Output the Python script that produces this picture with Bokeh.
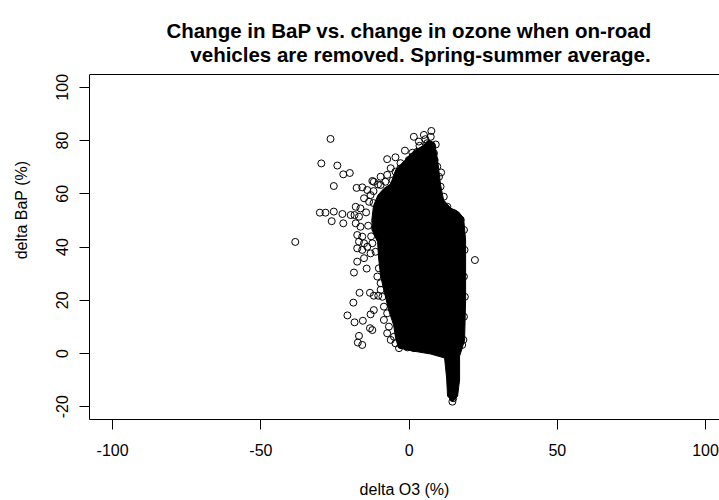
from bokeh.plotting import figure
from bokeh.models import Range1d, FixedTicker, Label, Span
from bokeh.embed import file_html
from bokeh.resources import INLINE

# ---------------- data ----------------
title_line1 = "Change in BaP vs. change in ozone when on-road"
title_line2 = "vehicles are removed. Spring-summer average."
x_label = "delta O3 (%)"
y_label = "delta BaP (%)"
x_ticks = [-100, -50, 0, 50, 100]
x_tick_labels = ["-100", "-50", "0", "50", "100"]
y_ticks = [-20, 0, 20, 40, 60, 80, 100]
y_tick_labels = ["-20", "0", "20", "40", "60", "80", "100"]

# outline of the region where the points overlap into a solid black mass
core_x = [4.55, 6.58, 8.60, 9.61, 10.62, 11.64, 14.00, 16.69, 18.38, 19.06,
          19.06, 18.72, 17.71, 17.03, 17.03, 16.36, 14.67, 12.98, 12.65, 11.97,
          7.25, 1.18, -3.54, -4.55, -5.23, -6.91, -8.26, -9.61, -10.29, -10.62,
          -12.2, -12.6, -12.0, -10.5, -8.5, -6.24, -4.5, -1.5, 1.5]
core_y = [77.95, 80.20, 79.08, 72.69, 63.30, 57.66, 54.66, 53.16, 50.90, 42.64,
          20.10, 5.07, 1.31, -0.94, -9.95, -15.97, -18.22, -15.97, -9.20, -1.69,
          -0.19, 0.94, 2.07, 5.82, 10.71, 16.34, 22.73, 29.11, 35.88, 41.89,
          45.6, 50.0, 55.5, 59.5, 62.0, 63.67, 69.0, 72.5, 76.0]

# individual points (outliers and ragged edge of the mass)
pts_x = [-26.5, -29.6, -24.2, -22.2, -20.0, -25.4, -38.4, -30.1, -28.2, -25.4,
         -22.5, -19.7, -26.1, -22.2, 22.2, -18.6, -16.7, -18.8, -20.8, -18.4,
         -15.6, -16.9, -17.3, -15.8, -13.2, -11.9, -10.4, -13.0, -11.9, -13.2,
         -12.4, -17.5, -14.3, 1.6, 5.0, 7.5, 3.3, 6.1, 7.3, -7.4,
         -4.6, -1.4, 1.1, 2.8, -12.4, -17.7, -15.8,
         -14.1, -13.0, -15.2, -18.0, -16.4, -18.4, -16.9, -18.0, -16.4, -17.5,
         -15.8, -16.9, -15.2, -17.5, -15.8, -14.1, -12.4, -13.0, -11.3, -15.2,
         -10.2, -10.7, -9.6, -9.6, -9.0, -8.5, -7.4, -8.5, -6.8, -7.4,
         -5.1, -4.6, -2.3, -0.6, 1.6, -6.2, -3.4, 17.9, 18.3, 14.9,
         14.6, 18.5, 18.7, 18.5, 18.8, 18.5,
         6.1, 7.8, 6.7, 4.5, 8.4, 8.6, 9.5, 10.1, 10.6, 11.7, 12.9, 15.1, 17.4,
         -6.2, -4.6, -2.9, -1.2, -0.1, 1.1, 2.8, -9.6, -7.4, -11.9, -9.6,
         -13.5, -14.5, -13.8, -12.0, -10.5, -8.0, -5.5, -3.0, -12.8, -11.5,
         -11.0, -12.0, 3.5, 5.5, 9.0, 10.8]
pts_y = [80.6, 71.4, 70.6, 67.3, 67.8, 62.9, 41.9, 52.9, 52.9, 53.3,
         52.4, 52.0, 49.7, 48.9, 35.1, 30.4, 22.8, 19.1, 14.3, 11.7,
         12.3, 6.6, 4.1, 3.2, 22.8, 21.7, 21.7, 14.7, 16.3, 9.5,
         8.8, 34.5, 31.9, 81.4, 82.1, 83.6, 79.6, 79.0, 81.4, 73.0,
         73.7, 76.2, 75.4, 75.8, 64.8, 62.2, 62.4,
         61.4, 59.5, 58.3, 55.1, 54.5, 52.0, 51.4, 48.9, 47.6, 44.5,
         43.9, 42.0, 41.4, 39.5, 38.9, 40.1, 41.4, 37.6, 38.2, 35.8,
         32.0, 28.9, 26.4, 23.9, 21.3, 17.6, 15.1, 12.6, 10.1, 7.6,
         6.3, 3.8, 3.2, 2.3, 2.0, 5.1, 2.0, 3.2, 5.1, -16.8,
         -18.1, 46.4, 38.9, 28.9, 21.3, 13.8,
         76.4, 77.7, 74.6, 75.2, 75.2, 72.7, 70.2, 66.4, 62.7, 58.9, 55.1, 52.7, 50.2,
         69.6, 68.3, 71.5, 70.8, 72.7, 73.9, 75.2, 66.4, 67.1, 64.5, 63.3,
         57.0, 53.0, 48.0, 61.0, 63.5, 64.5, 65.0, 69.5, 44.0, 47.0,
         52.5, 56.5, 78.0, 80.5, 78.5, 68.0]

# ---------------- figure ----------------
FONT = "Liberation Sans"
Y_LO, Y_HI = -24.8, 104.8  # plotting box (y)

p = figure(frame_width=630, frame_height=419,
           min_border_left=89, min_border_right=0, min_border_top=0, min_border_bottom=81,
           x_range=Range1d(-107.8, 104.7), y_range=Range1d(Y_LO, Y_LO + 419 / 2.662),
           output_backend="svg", toolbar_location=None)
p.outline_line_color = None
p.grid.visible = False
p.background_fill_color = "white"
p.border_fill_color = "white"

xa = p.xaxis[0]
xa.ticker = FixedTicker(ticks=x_ticks)
xa.major_label_overrides = {t: s for t, s in zip(x_ticks, x_tick_labels)}
xa.axis_label = x_label
ya = p.yaxis[0]
ya.ticker = FixedTicker(ticks=y_ticks)
ya.major_label_overrides = {t: s for t, s in zip(y_ticks, y_tick_labels)}
ya.axis_label = y_label
ya.major_label_orientation = "vertical"
ya.bounds = (Y_LO, Y_HI)

for ax in (xa, ya):
    ax.axis_line_color = "black"
    ax.axis_line_width = 1
    ax.major_tick_line_color = "black"
    ax.major_tick_out = 10
    ax.major_tick_in = 0
    ax.minor_tick_line_color = None
    ax.major_label_text_font = FONT
    ax.major_label_text_font_size = "16px"
    ax.major_label_text_color = "black"
    ax.axis_label_text_font = FONT
    ax.axis_label_text_font_size = "16px"
    ax.axis_label_text_font_style = "normal"
    ax.axis_label_text_color = "black"
xa.major_label_standoff = 14
xa.axis_label_standoff = 22
ya.major_label_standoff = 11
ya.axis_label_standoff = 24

p.add_layout(Span(location=Y_HI, dimension="width", line_color="black", line_width=1))

p.patch(core_x, core_y, fill_color="black", line_color="black", line_width=1)
p.scatter(pts_x, pts_y, marker="circle", size=7, fill_color=None,
          line_color="black", line_width=1)

t1 = Label(x=319.5, y=389, x_units="screen", y_units="screen", text=title_line1,
           text_align="center", text_baseline="alphabetic", text_font=FONT,
           text_font_size="20.5px", text_font_style="bold", text_color="black")
t2 = Label(x=331, y=365, x_units="screen", y_units="screen", text=title_line2,
           text_align="center", text_baseline="alphabetic", text_font=FONT,
           text_font_size="20.5px", text_font_style="bold", text_color="black")
p.add_layout(t1)
p.add_layout(t2)

open("out.html", "w").write(file_html(p, INLINE))
